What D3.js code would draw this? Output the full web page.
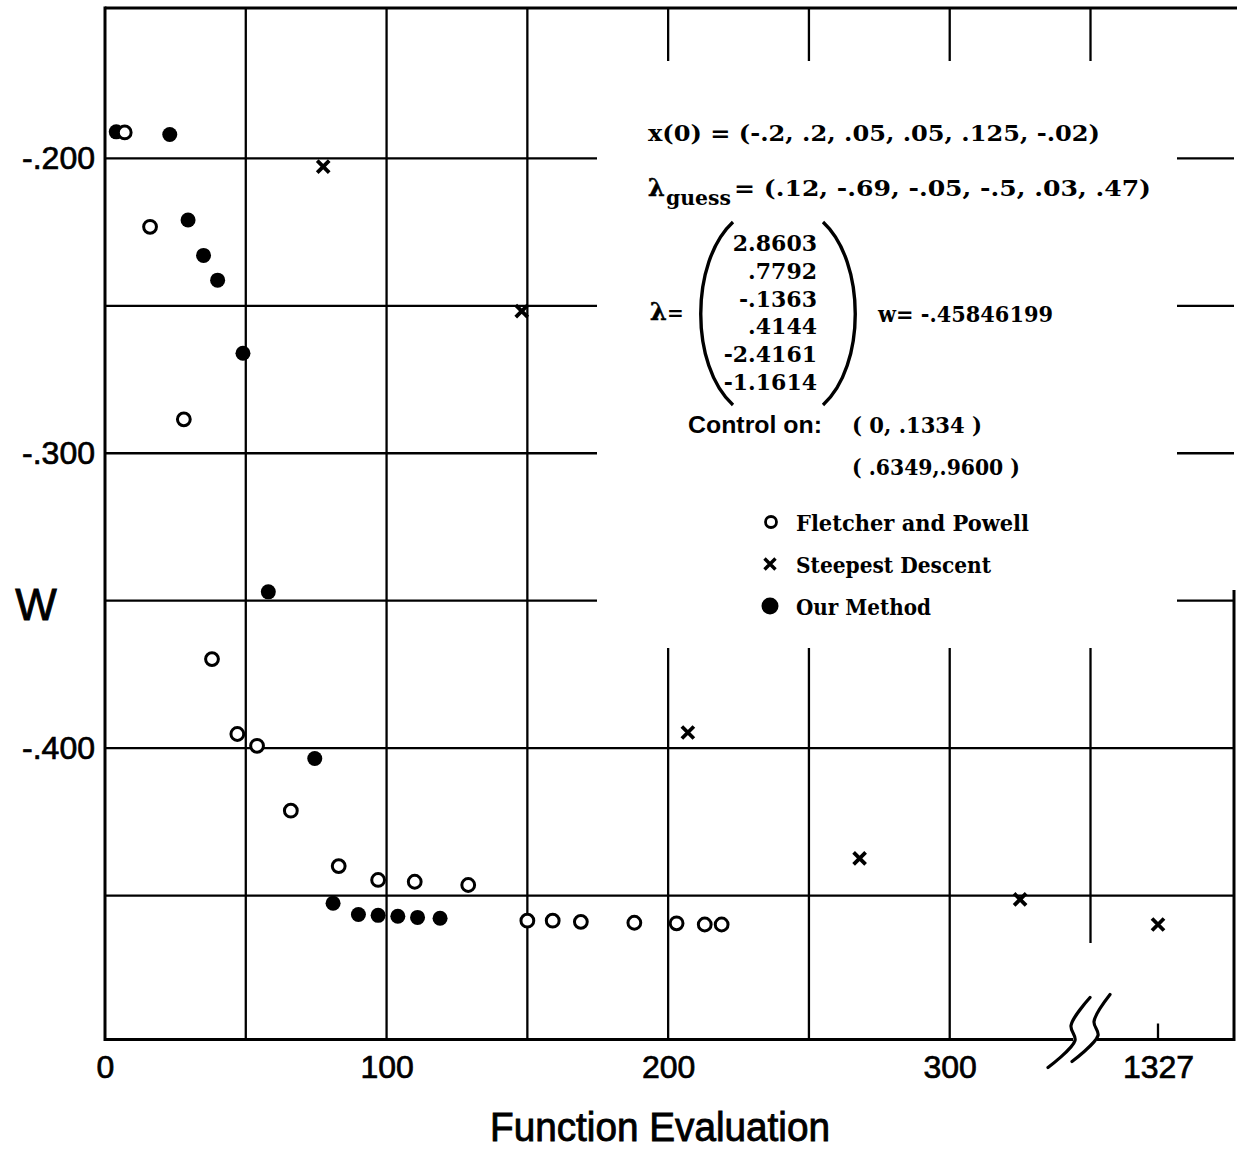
<!DOCTYPE html>
<html>
<head>
<meta charset="utf-8">
<script src="https://cdn.jsdelivr.net/npm/d3@7"></script>
<style>
body { margin: 0; background: #fff; }
</style>
</head>
<body>
<script>
// values: function evaluations and W
var fpEvals = [7, 16, 28, 38, 47, 54, 66, 83, 97, 110, 129, 150, 159, 169, 188, 203, 213, 219];
var fpW     = [-0.1912, -0.2232, -0.2885, -0.3698, -0.3952, -0.3992, -0.4212, -0.4400, -0.4447,
               -0.4453, -0.4464, -0.4585, -0.4585, -0.4589, -0.4592, -0.4594, -0.4598, -0.4598];

var ourEvals = [4, 23, 29.5, 35, 40, 49, 58, 74.5, 81, 90, 97, 104, 111, 119];
var ourW     = [-0.1910, -0.1919, -0.2209, -0.2329, -0.2413, -0.2661, -0.3470, -0.4035,
                -0.4526, -0.4564, -0.4567, -0.4570, -0.4574, -0.4577];

var sdEvals = [77.5, 148, 207, 268, 325, 1327];
var sdW     = [-0.2028, -0.2518, -0.3947, -0.4374, -0.4513, -0.4598];

var xTicks = [0, 100, 200, 300, 1327];
var yTicks = [-0.2, -0.3, -0.4];
var yTickLabels = ["-.200", "-.300", "-.400"];
var xGrid = [50, 100, 150, 200, 250, 300, 350];
var yGrid = [-0.2, -0.25, -0.3, -0.35, -0.4, -0.45];

var lambdaVals = ["2.8603", ".7792", "-.1363", ".4144", "-2.4161", "-1.1614"];
var legendNames = ["Fletcher and Powell", "Steepest Descent", "Our Method"];

var width = 1237, height = 1151;

var svg = d3.select("body").append("svg")
    .attr("width", width)
    .attr("height", height);

svg.append("rect").attr("width", width).attr("height", height).attr("fill", "#fff");

// broken x axis: 0..350 linear, then jump to 1327
var x = d3.scaleLinear().domain([0, 350, 1327]).range([105, 1090.5, 1158]);
var y = d3.scaleLinear().domain([-0.4988, -0.149]).range([1039.5, 8]);

var yBottom = y(-0.4988), yTop = y(-0.149), xLeft = x(0), xRight = 1234;
// the blank area kept for the notes
var boxLeft = 597, boxRight = 1177, boxBottom = 648, stubBottom = 61;

var serif = "'DejaVu Serif', serif",
    sans = "'Liberation Sans', Arial, sans-serif";

// horizontal grid
yGrid.forEach(function(v){
    var segs = v >= -0.35 ? [[xLeft, boxLeft], [boxRight, xRight]] : [[xLeft, xRight]];
    segs.forEach(function(s){
        svg.append("line")
            .attr("x1", s[0]).attr("x2", s[1])
            .attr("y1", y(v)).attr("y2", y(v))
            .style("stroke", "#000").style("stroke-width", "2.3px");
    });
});

// vertical grid
xGrid.forEach(function(v){
    var px = x(v);
    var segs;
    if (px < boxLeft) segs = [[yTop, yBottom]];
    else if (v == 350) segs = [[yTop, stubBottom], [boxBottom, 943]];
    else segs = [[yTop, stubBottom], [boxBottom, yBottom]];
    segs.forEach(function(s){
        svg.append("line")
            .attr("x1", px).attr("x2", px)
            .attr("y1", s[0]).attr("y2", s[1])
            .style("stroke", "#000").style("stroke-width", "2.3px");
    });
});

// frame
var frame = svg.append("g").style("stroke", "#000").style("stroke-width", "3px").style("fill", "none");
frame.append("line").attr("x1", xLeft).attr("x2", xLeft).attr("y1", yTop - 1.5).attr("y2", yBottom + 1.5);
frame.append("line").attr("x1", xLeft).attr("x2", width).attr("y1", yTop).attr("y2", yTop);
frame.append("line").attr("x1", xRight).attr("x2", xRight).attr("y1", 590).attr("y2", yBottom + 1.5);

var breakX = x(344.5);
frame.append("line").attr("x1", xLeft).attr("x2", breakX - 2).attr("y1", yBottom).attr("y2", yBottom);
frame.append("line").attr("x1", breakX + 22).attr("x2", xRight).attr("y1", yBottom).attr("y2", yBottom);

// axis break marks
var brk = d3.line().curve(d3.curveCatmullRom);
[[[-27, 28], [0, 1], [-4, -14], [15, -42]],
 [[-3, 22], [23, -4], [19, -18], [35, -45]]].forEach(function(p){
    frame.append("path")
        .attr("d", brk(p.map(function(q){ return [breakX + q[0], yBottom + q[1]]; })))
        .style("stroke-width", "3.2px")
        .style("stroke-linecap", "round");
});

// tick for 1327
frame.append("line").attr("x1", x(1327)).attr("x2", x(1327))
    .attr("y1", yBottom).attr("y2", yBottom - 16).style("stroke-width", "2.3px");

// axis labels
var xAxis = d3.axisBottom(x).tickValues(xTicks).tickSize(0).tickPadding(16).tickFormat(d3.format("d"));
svg.append("g")
    .attr("transform", "translate(0," + yBottom + ")")
    .call(xAxis)
    .call(function(g){ g.select(".domain").remove(); })
    .selectAll("text")
    .attr("fill", "#000")
    .style("stroke", "#000")
    .style("stroke-width", "0.7px")
    .style("font-family", sans)
    .style("font-size", "32px");

var yAxis = d3.axisLeft(y).tickValues(yTicks).tickSize(0).tickPadding(10)
    .tickFormat(function(d, i){ return yTickLabels[i]; });
svg.append("g")
    .attr("transform", "translate(" + xLeft + ",0)")
    .call(yAxis)
    .call(function(g){ g.select(".domain").remove(); })
    .selectAll("text")
    .attr("fill", "#000")
    .style("stroke", "#000")
    .style("stroke-width", "0.7px")
    .style("font-family", sans)
    .style("font-size", "32px");

svg.append("text")
    .attr("x", 36)
    .attr("y", 620)
    .style("text-anchor", "middle")
    .style("font-family", sans)
    .style("font-size", "44px")
    .style("stroke", "#000")
    .style("stroke-width", "0.9px")
    .text("W");

svg.append("text")
    .attr("x", 660)
    .attr("y", 1141)
    .attr("textLength", 340)
    .attr("lengthAdjust", "spacingAndGlyphs")
    .style("text-anchor", "middle")
    .style("font-family", sans)
    .style("font-size", "40px")
    .style("stroke", "#000")
    .style("stroke-width", "0.9px")
    .text("Function Evaluation");

// data marks
var fp = fpEvals.map(function(d, i){ return {e: d, w: fpW[i]}; });
var our = ourEvals.map(function(d, i){ return {e: d, w: ourW[i]}; });
var sd = sdEvals.map(function(d, i){ return {e: d, w: sdW[i]}; });

svg.selectAll(".our").data(our).enter().append("circle")
    .attr("class", "our")
    .attr("cx", function(d){ return x(d.e); })
    .attr("cy", function(d){ return y(d.w); })
    .attr("r", 7.5)
    .style("fill", "#000");

svg.selectAll(".fp").data(fp).enter().append("circle")
    .attr("class", "fp")
    .attr("cx", function(d){ return x(d.e); })
    .attr("cy", function(d){ return y(d.w); })
    .attr("r", 6.4)
    .style("fill", "#fff")
    .style("stroke", "#000")
    .style("stroke-width", "3px");

var cross = "M-6,-6L6,6M-6,6L6,-6";
svg.selectAll(".sd").data(sd).enter().append("path")
    .attr("class", "sd")
    .attr("transform", function(d){ return "translate(" + x(d.e) + "," + y(d.w) + ")"; })
    .attr("d", cross)
    .style("fill", "none")
    .style("stroke", "#000")
    .style("stroke-width", "3.8px");

// notes
function note(str, px, py, len, anchor, size){
    var t = svg.append("text")
        .attr("x", px).attr("y", py)
        .style("font-family", serif)
        .style("font-weight", "bold")
        .style("font-size", (size || 22) + "px")
        .style("text-anchor", anchor || "start")
        .text(str);
    if (len) t.attr("textLength", len).attr("lengthAdjust", "spacingAndGlyphs");
    return t;
}

note("x(0) = (-.2, .2, .05, .05, .125, -.02)", 648, 141, 452);
note("\u03bb", 648, 196, 0, "start", 24).style("stroke", "#000").style("stroke-width", "0.6px");
note("guess", 666, 205, 65, "start", 20);
note("= (.12, -.69, -.05, -.5, .03, .47)", 734, 196, 417);

lambdaVals.forEach(function(v, i){
    note(v, 817, 251 + i * 27.8, 0, "end");
});

var paren = svg.append("g").style("fill", "none").style("stroke", "#000").style("stroke-width", "3.4px");
paren.append("path").attr("d", "M733,222 C690,262 690,366 733,405");
paren.append("path").attr("d", "M823,222 C866,262 866,366 823,405");

note("\u03bb", 650, 320, 0, "start", 24).style("stroke", "#000").style("stroke-width", "0.6px");
note("=", 667, 320, 0, "start", 20);
note("w= -.45846199", 878, 322, 175);

svg.append("text")
    .attr("x", 688).attr("y", 433)
    .attr("textLength", 134)
    .attr("lengthAdjust", "spacingAndGlyphs")
    .style("font-family", sans)
    .style("font-weight", "bold")
    .style("font-size", "23px")
    .text("Control on:");
note("( 0, .1334 )", 852, 433, 130);
note("( .6349,.9600 )", 852, 475, 168);

// legend
var legY = [522, 564, 606];
var legLen = [233, 195, 135];
svg.append("circle").attr("cx", 771).attr("cy", legY[0]).attr("r", 5.5)
    .style("fill", "#fff").style("stroke", "#000").style("stroke-width", "2.8px");
svg.append("path").attr("transform", "translate(770," + legY[1] + ")")
    .attr("d", "M-5.5,-5.5L5.5,5.5M-5.5,5.5L5.5,-5.5")
    .style("stroke", "#000").style("stroke-width", "3.4px");
svg.append("circle").attr("cx", 770).attr("cy", legY[2]).attr("r", 8.5).style("fill", "#000");
legendNames.forEach(function(n, i){
    note(n, 796, legY[i] + 9, legLen[i]);
});
</script>
</body>
</html>
